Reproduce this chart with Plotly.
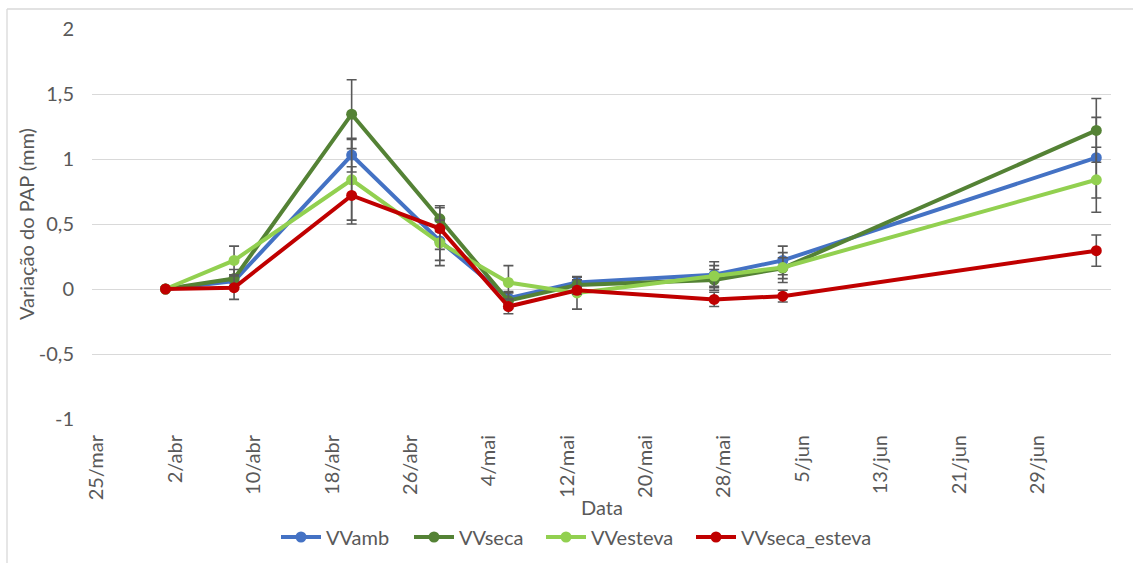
import plotly.graph_objects as go

# Measurement dates (2019)
dates = ["2019-04-01", "2019-04-08", "2019-04-20", "2019-04-29", "2019-05-06",
         "2019-05-13", "2019-05-27", "2019-06-03", "2019-07-05"]

# Mean PAP variation (mm) per treatment
vv_amb = [0, 0.06, 1.03, 0.37, -0.07, 0.05, 0.11, 0.22, 1.01]
vv_seca = [0, 0.08, 1.345, 0.54, -0.09, 0.03, 0.07, 0.16, 1.22]
vv_esteva = [0, 0.22, 0.84, 0.355, 0.05, -0.03, 0.10, 0.165, 0.84]
vv_seca_esteva = [0, 0.01, 0.72, 0.465, -0.135, -0.01, -0.08, -0.055, 0.295]

# Error (± mm) per treatment
err_amb = [0, 0.05, 0.13, 0.15, 0.05, 0.04, 0.10, 0.11, 0.31]
err_seca = [0, 0.07, 0.265, 0.10, 0.06, 0.04, 0.08, 0.08, 0.245]
err_esteva = [0, 0.11, 0.31, 0.175, 0.13, 0.125, 0.08, 0.115, 0.25]
err_seca_esteva = [0, 0.09, 0.22, 0.16, 0.055, 0.03, 0.055, 0.045, 0.12]

series_names = ["VVamb", "VVseca", "VVesteva", "VVseca_esteva"]

# Axis ticks
x_tick_dates = ["2019-03-25", "2019-04-02", "2019-04-10", "2019-04-18", "2019-04-26",
                "2019-05-04", "2019-05-12", "2019-05-20", "2019-05-28", "2019-06-05",
                "2019-06-13", "2019-06-21", "2019-06-29"]
x_tick_labels = ["25/mar", "2/abr", "10/abr", "18/abr", "26/abr", "4/mai", "12/mai",
                 "20/mai", "28/mai", "5/jun", "13/jun", "21/jun", "29/jun"]
y_tick_values = [-1, -0.5, 0, 0.5, 1, 1.5, 2]
y_tick_labels = ["-1", "-0,5", "0", "0,5", "1", "1,5", "2"]

colors = ["#4472C4", "#548235", "#92D050", "#C00000"]
values = [vv_amb, vv_seca, vv_esteva, vv_seca_esteva]
errors = [err_amb, err_seca, err_esteva, err_seca_esteva]

FONT = "Lato, 'Open Sans', sans-serif"
FS = 20
TEXT_COLOR = "#595959"
GRID = "#D9D9D9"

W, H = 1133, 563
L, R, T, B = 92, 22, 29, 144
pw, ph = W - L - R, H - T - B

# one legend box per series, laid out left to right along the bottom
legend_ids = ["legend", "legend2", "legend3", "legend4"]
legend_left_px = [276, 409, 541, 691]

fig = go.Figure()
for name, col, ys, es, lid in zip(series_names, colors, values, errors, legend_ids):
    fig.add_trace(go.Scatter(
        x=dates, y=ys, name=name, mode="lines+markers",
        line=dict(color=col, width=4),
        marker=dict(color=col, size=11),
        error_y=dict(type="data", array=es, visible=True,
                     color="#595959", thickness=1.6, width=5),
        legend=lid,
    ))

legend_layouts = {}
for lid, px in zip(legend_ids, legend_left_px):
    legend_layouts[lid] = dict(
        orientation="h", x=(px - L) / pw, xanchor="left",
        y=(T + ph - 537) / ph, yanchor="middle",
        font=dict(family=FONT, size=FS, color=TEXT_COLOR),
        itemwidth=40, bgcolor="rgba(0,0,0,0)",
    )

fig.update_layout(
    width=W, height=H,
    margin=dict(l=L, r=R, t=T, b=B, pad=0, autoexpand=False),
    paper_bgcolor="white", plot_bgcolor="white",
    font=dict(family=FONT, size=FS, color=TEXT_COLOR),
    showlegend=True,
    **legend_layouts,
    xaxis=dict(
        type="date",
        range=["2019-03-24 12:00", "2019-07-06 12:00"],
        tickmode="array", tickvals=x_tick_dates, ticktext=x_tick_labels,
        tickangle=-90, showgrid=False, zeroline=False, showline=False,
        ticks="", ticklabelstandoff=11,
        tickfont=dict(family=FONT, size=FS, color=TEXT_COLOR),
    ),
    yaxis=dict(
        range=[-1, 2],
        tickmode="array", tickvals=y_tick_values, ticktext=y_tick_labels,
        showgrid=True, gridcolor=GRID, gridwidth=1.3,
        zeroline=False, showline=False, ticks="", ticklabelstandoff=17,
        tickfont=dict(family=FONT, size=FS, color=TEXT_COLOR),
    ),
    annotations=[
        dict(text="Data", xref="paper", yref="paper", x=0.5, y=0,
             xanchor="center", yanchor="middle", yshift=-(507 - (T + ph)),
             showarrow=False, font=dict(family=FONT, size=FS, color=TEXT_COLOR)),
        dict(text="Variação do PAP (mm)", xref="paper", yref="paper",
             x=0, y=0.5, xanchor="center", yanchor="middle", xshift=26 - L,
             textangle=-90, showarrow=False,
             font=dict(family=FONT, size=FS, color=TEXT_COLOR)),
    ],
    shapes=[
        # chart area border (left and top edges)
        dict(type="line", xref="paper", yref="paper",
             x0=(7 - L) / pw, x1=(7 - L) / pw,
             y0=(T + ph - H) / ph, y1=(T + ph - 9) / ph,
             line=dict(color=GRID, width=1.3)),
        dict(type="line", xref="paper", yref="paper",
             x0=(7 - L) / pw, x1=(W - L) / pw,
             y0=(T + ph - 9) / ph, y1=(T + ph - 9) / ph,
             line=dict(color=GRID, width=1.3)),
    ],
)

fig.write_html("out.html")
